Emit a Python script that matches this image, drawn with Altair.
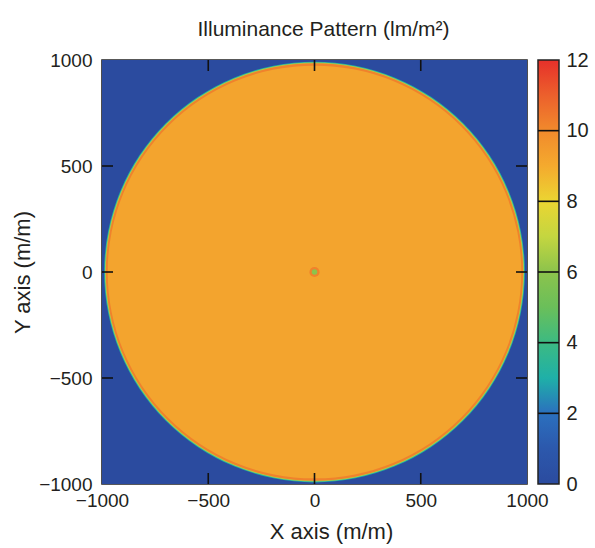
import altair as alt
import pandas as pd

# ---- data ----
# colour scale (value -> colour) of the colour bar
cbar_stops = [0, 1, 2, 3, 4, 5, 6, 7, 8, 9, 10, 11, 12]
cbar_colors = ["#2b4b9f", "#2c58ac", "#2b70be", "#1fb0a8", "#3cba82", "#6abf5a",
               "#8cc34c", "#c4d640", "#ebd532", "#f4aa2e", "#f18a2c", "#ec602c", "#e6302a"]
cbar_ticks = [0, 2, 4, 6, 8, 10, 12]
cbar_lines = [2, 4, 6, 8, 10]
cbar_min = [0]
cbar_max = [12]

# background field (outside the illuminated disk)
bg_x = [-1000]
bg_x2 = [1000]
bg_y = [-1000]
bg_y2 = [1000]
bg_value = [0.0]

# illuminated disk: concentric zones, outermost first (radius in m/m, illuminance in lm/m^2)
ring_radius = [990, 986, 982, 971, 24, 13]
ring_value = [3.0, 6.6, 10.2, 9.2, 10.2, 6.0]

# axis ticks
axis_ticks = [-1000, -500, 0, 500, 1000]
inner_ticks = [-500, 0, 500]

W, H = 425, 424
FONT = "Liberation Sans"
TXT = "#231f20"

color_scale = alt.Scale(domain=cbar_stops, range=cbar_colors, interpolate="rgb")
xs = alt.Scale(domain=[-1000, 1000], nice=False, zero=False)
ys = alt.Scale(domain=[-1000, 1000], nice=False, zero=False)
cs = alt.Scale(domain=[cbar_min[0], cbar_max[0]], nice=False, zero=False)

bg = pd.DataFrame({"x": bg_x, "x2": bg_x2, "y": bg_y, "y2": bg_y2, "v": bg_value})
rings = pd.DataFrame({"cx": [0] * len(ring_radius), "cy": [0] * len(ring_radius),
                      "r": ring_radius, "v": ring_value})
ticks_df = pd.DataFrame({"p": inner_ticks})
cl_df = pd.DataFrame({"c": cbar_lines})
cb_df = pd.DataFrame({"lo": cbar_min, "hi": cbar_max})

axis_common = dict(values=axis_ticks, ticks=False, domain=False, grid=False, format="d",
                   labelFontSize=19, labelFont=FONT, labelColor=TXT,
                   titleFontSize=22, titleFont=FONT, titleColor=TXT,
                   titleFontWeight="normal", zindex=1)

base_rect = alt.Chart(bg).mark_rect().encode(
    x=alt.X("x:Q", scale=xs, title="X axis (m/m)",
            axis=alt.Axis(labelPadding=7, labelFlush=False, titlePadding=11,
                          titleX=229, **axis_common)),
    x2="x2:Q",
    y=alt.Y("y:Q", scale=ys, title="Y axis (m/m)",
            axis=alt.Axis(labelPadding=10, titlePadding=4, **axis_common)),
    y2="y2:Q",
    color=alt.Color("v:Q", scale=color_scale, legend=None),
)

disk = alt.Chart(rings).mark_arc(theta=0, theta2=6.2832).encode(
    x=alt.X("cx:Q", scale=xs),
    y=alt.Y("cy:Q", scale=ys),
    radius=alt.Radius("r:Q", stack=False,
                      scale=alt.Scale(type="linear", domain=[0, 1000], range=[0, W / 2], zero=True)),
    color=alt.Color("v:Q", scale=color_scale, legend=None),
)

TL = 11
tick_style = dict(color="#111", strokeWidth=1.6)
top_t = alt.Chart(ticks_df).mark_rule(**tick_style).encode(
    x=alt.X("p:Q", scale=xs), y=alt.value(0), y2=alt.value(TL))
bot_t = alt.Chart(ticks_df).mark_rule(**tick_style).encode(
    x=alt.X("p:Q", scale=xs), y=alt.value(H), y2=alt.value(H - TL))
left_t = alt.Chart(ticks_df).mark_rule(**tick_style).encode(
    y=alt.Y("p:Q", scale=ys), x=alt.value(0), x2=alt.value(TL))
right_t = alt.Chart(ticks_df).mark_rule(**tick_style).encode(
    y=alt.Y("p:Q", scale=ys), x=alt.value(W), x2=alt.value(W - TL))

main = alt.layer(base_rect, disk, top_t, bot_t, left_t, right_t)

# colour bar: gradient built from the same stops as the colour scale
span = cbar_max[0] - cbar_min[0]
grad = alt.Gradient(
    gradient="linear", x1=0, y1=1, x2=0, y2=0,
    stops=[alt.GradientStop(offset=(s - cbar_min[0]) / span, color=c)
           for s, c in zip(cbar_stops, cbar_colors)],
)
CB0, CB1 = W + 11, W + 32
cbar_rect = alt.Chart(cb_df).mark_rect(fill=grad, stroke="#222", strokeWidth=1.5).encode(
    y=alt.Y("lo:Q", scale=cs, title=None,
            axis=alt.Axis(orient="right", offset=CB1 - W, values=cbar_ticks, ticks=False,
                          domain=False, grid=False, labelFontSize=20, labelFont=FONT,
                          labelColor=TXT, labelPadding=7)),
    y2="hi:Q",
    x=alt.value(CB0), x2=alt.value(CB1),
)
cbar_lines_layer = alt.Chart(cl_df).mark_rule(color="#111", strokeWidth=1.6).encode(
    y=alt.Y("c:Q", scale=cs),
    x=alt.value(CB0), x2=alt.value(CB1),
)
cbar = alt.layer(cbar_rect, cbar_lines_layer)

chart = alt.layer(main, cbar).resolve_scale(y="independent").properties(
    width=W, height=H,
    title=alt.TitleParams("Illuminance Pattern (lm/m²)", fontSize=21, font=FONT,
                          color=TXT, fontWeight="normal", offset=10, anchor="middle", dx=9),
    autosize=alt.AutoSizeParams(type="none"),
    padding={"left": 102, "top": 60, "right": 68, "bottom": 64},
    background="white",
).configure_view(stroke="#222", strokeWidth=1.6)

chart.save("out.html", embed_options={"renderer": "svg", "actions": False})
